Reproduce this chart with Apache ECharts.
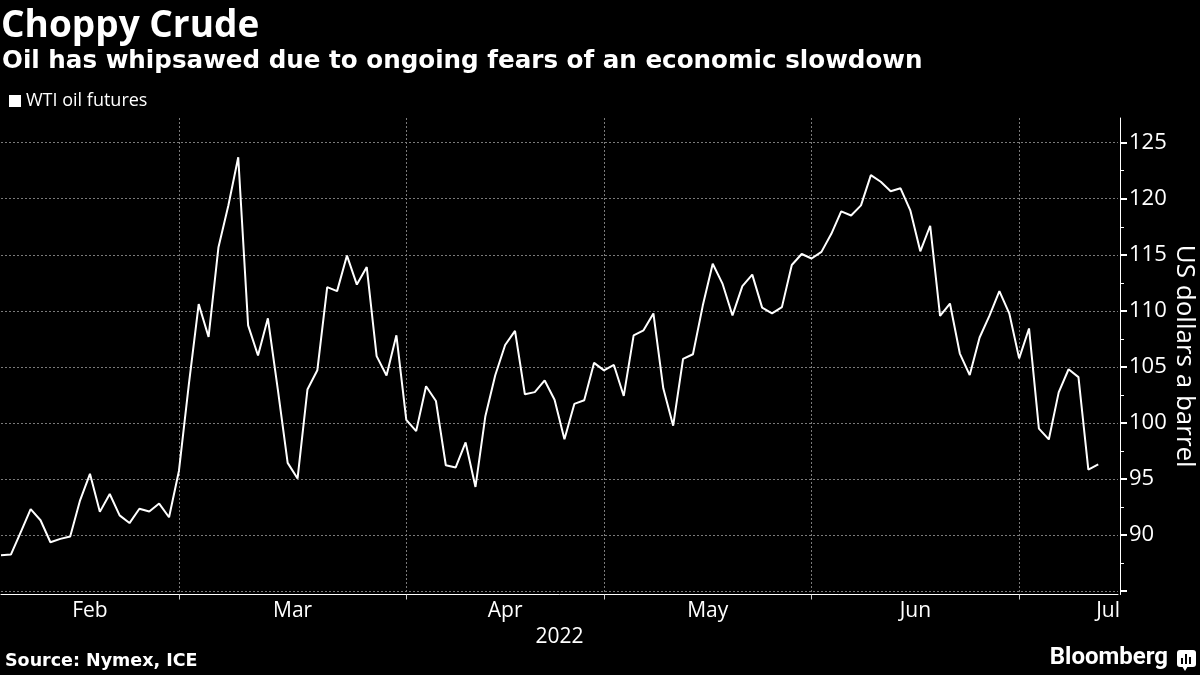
<!DOCTYPE html>
<html><head><meta charset="utf-8">
<script src="https://cdn.jsdelivr.net/npm/echarts@6/dist/echarts.min.js"></script>
<style>html,body{margin:0;padding:0;background:#000}#c{width:1200px;height:675px}</style>
</head><body><div id="c"></div>
<script>
// Trading days (WTI front-month settlements, Feb 1 – Jul 13, 2022)
const dates = [
 '2022-02-01','2022-02-02','2022-02-03','2022-02-04','2022-02-07','2022-02-08','2022-02-09','2022-02-10','2022-02-11','2022-02-14',
 '2022-02-15','2022-02-16','2022-02-17','2022-02-18','2022-02-22','2022-02-23','2022-02-24','2022-02-25','2022-02-28',
 '2022-03-01','2022-03-02','2022-03-03','2022-03-04','2022-03-07','2022-03-08','2022-03-09','2022-03-10','2022-03-11','2022-03-14',
 '2022-03-15','2022-03-16','2022-03-17','2022-03-18','2022-03-21','2022-03-22','2022-03-23','2022-03-24','2022-03-25','2022-03-28',
 '2022-03-29','2022-03-30','2022-03-31',
 '2022-04-01','2022-04-04','2022-04-05','2022-04-06','2022-04-07','2022-04-08','2022-04-11','2022-04-12','2022-04-13','2022-04-14',
 '2022-04-18','2022-04-19','2022-04-20','2022-04-21','2022-04-22','2022-04-25','2022-04-26','2022-04-27','2022-04-28','2022-04-29',
 '2022-05-02','2022-05-03','2022-05-04','2022-05-05','2022-05-06','2022-05-09','2022-05-10','2022-05-11','2022-05-12','2022-05-13',
 '2022-05-16','2022-05-17','2022-05-18','2022-05-19','2022-05-20','2022-05-23','2022-05-24','2022-05-25','2022-05-26','2022-05-27',
 '2022-05-31',
 '2022-06-01','2022-06-02','2022-06-03','2022-06-06','2022-06-07','2022-06-08','2022-06-09','2022-06-10','2022-06-13','2022-06-14',
 '2022-06-15','2022-06-16','2022-06-17','2022-06-21','2022-06-22','2022-06-23','2022-06-24','2022-06-27','2022-06-28','2022-06-29',
 '2022-06-30',
 '2022-07-01','2022-07-05','2022-07-06','2022-07-07','2022-07-08','2022-07-11','2022-07-12','2022-07-13'
];
const wti = [
 88.20, 88.26, 90.27, 92.31, 91.32, 89.36, 89.66, 89.88, 93.10, 95.46,
 92.07, 93.66, 91.76, 91.07, 92.35, 92.10, 92.81, 91.59, 95.72,
 103.41, 110.60, 107.67, 115.68, 119.40, 123.70, 108.70, 106.02, 109.33, 103.01,
 96.44, 95.04, 102.98, 104.70, 112.12, 111.76, 114.93, 112.34, 113.90, 105.96,
 104.24, 107.82, 100.28,
 99.27, 103.28, 101.96, 96.23, 96.03, 98.26, 94.29, 100.60, 104.25, 106.95,
 108.21, 102.56, 102.75, 103.79, 102.07, 98.54, 101.70, 102.02, 105.36, 104.69,
 105.17, 102.41, 107.81, 108.26, 109.77, 103.09, 99.76, 105.71, 106.13, 110.49,
 114.20, 112.40, 109.59, 112.21, 113.23, 110.29, 109.77, 110.33, 114.09, 115.07,
 114.67,
 115.26, 116.87, 118.87, 118.50, 119.41, 122.11, 121.51, 120.67, 120.93, 118.93,
 115.31, 117.59, 109.56, 110.65, 106.19, 104.27, 107.62, 109.57, 111.76, 109.78,
 105.76,
 108.43, 99.50, 98.53, 102.73, 104.79, 104.09, 95.84, 96.30
];
// axis runs on past the last settlement by two more trading days
const padDates = ['2022-07-14','2022-07-15'];
const monthLabels = ['Feb','Mar','Apr','May','Jun','Jul'];
const yMajorTicks = [85, 90, 95, 100, 105, 110, 115, 120, 125];
const yLabelValues = [90, 95, 100, 105, 110, 115, 120, 125];
const yMinorTicks = [87.5, 92.5, 97.5, 102.5, 107.5, 112.5, 117.5, 122.5];

const categories = dates.concat(padDates);
const GRID_L = 1, GRID_R = 1118;
const slot = (GRID_R - GRID_L) / (categories.length - 1);

// last trading day of each month -> tick / grid line
const bounds = [];
for (let i = 0; i < categories.length - 1; i++) {
  if (categories[i].slice(5, 7) !== categories[i + 1].slice(5, 7)) bounds.push(i);
}
const boundSet = new Set(bounds);
// month labels centred between boundaries
const labelAt = {};
for (let m = 0; m < monthLabels.length; m++) {
  let idx, shift = 0;
  if (m === monthLabels.length - 1) {
    idx = categories.length - 2;
  } else {
    const start = m === 0 ? 0 : bounds[m - 1];
    const end = bounds[m];
    const mid = (start + end) / 2;
    idx = Math.floor(mid);
    shift = (mid - idx) * slot;
  }
  labelAt[idx] = { text: monthLabels[m], shift: shift };
}

const FONT = "'Open Sans', 'Noto Sans', sans-serif";
const GRID_COLOR = '#7a7a7a';

const chart = echarts.init(document.getElementById('c'), null, { renderer: 'canvas' });
chart.setOption({
  backgroundColor: '#000',
  animation: false,
  title: [
    { text: 'Choppy Crude', left: 1, top: 8, padding: 0,
      textStyle: { color: '#fff', fontSize: 37, fontWeight: 'bold', fontFamily: "'Open Sans', sans-serif" } },
    { text: 'Oil has whipsawed due to ongoing fears of an economic slowdown', left: 2, top: 49, padding: 0,
      textStyle: { color: '#fff', fontSize: 24.6, fontWeight: 'bold', fontFamily: "'DejaVu Sans', sans-serif" } },
    { text: 'Source: Nymex, ICE', left: 5, top: 652, padding: 0,
      textStyle: { color: '#fff', fontSize: 17.5, fontWeight: 'bold', fontFamily: "'DejaVu Sans', sans-serif" } },
    { text: 'Bloomberg', right: 32, top: 646, padding: 0,
      textStyle: { color: '#fff', fontSize: 24, fontWeight: 'bold', fontFamily: "Roboto, 'Open Sans', sans-serif" } }
  ],
  legend: {
    data: ['WTI oil futures'], left: 9, top: 92, padding: 0,
    icon: 'rect', itemWidth: 12, itemHeight: 12, selectedMode: false,
    textStyle: { color: '#fff', fontSize: 18, fontFamily: FONT }
  },
  grid: { left: GRID_L, right: 1200 - GRID_R, top: 118, bottom: 80.5, containLabel: false, outerBoundsMode: 'none' },
  xAxis: {
    type: 'category', data: categories, boundaryGap: false,
    axisLine: { show: true, onZero: false, lineStyle: { color: '#fff', width: 1 } },
    axisTick: { show: true, interval: (i) => boundSet.has(i), length: 5, lineStyle: { color: '#ccc', width: 1 } },
    splitLine: { show: true, interval: (i) => boundSet.has(i), lineStyle: { color: GRID_COLOR, width: 1, type: [2, 2] } },
    axisLabel: {
      interval: (i) => !!labelAt[i], margin: 6, color: '#fff', fontSize: 21, fontFamily: FONT,
      formatter: (v, i) => {
        const info = labelAt[i];
        if (!info) return '';
        return info.shift > 0.5 ? '{s|' + info.text + '}' : info.text;
      },
      rich: { s: { padding: [0, 0, 0, 2 * slot * 0.5], color: '#fff', fontSize: 21, fontFamily: FONT } }
    },
    name: '2022', nameLocation: 'middle', nameGap: 30,
    nameTextStyle: { color: '#fff', fontSize: 21, fontFamily: FONT }
  },
  yAxis: [
    {
      type: 'value', position: 'right', offset: 2, min: 84.7, max: 127.2, splitNumber: 8,
      axisLine: { show: true, lineStyle: { color: '#fff', width: 1 } },
      axisTick: { show: true, customValues: yMajorTicks, length: 7, lineStyle: { color: '#fff', width: 2 } },
      axisLabel: { customValues: yLabelValues, margin: 9,
                   color: '#fff', fontSize: 22, fontFamily: FONT },
      splitLine: { show: true, lineStyle: { color: GRID_COLOR, width: 1, type: [2, 2] } },
      name: 'US dollars a barrel', nameLocation: 'middle', nameRotate: -90, nameGap: 51, nameMoveOverlap: false,
      nameTextStyle: { color: '#fff', fontSize: 26, fontFamily: FONT }
    },
    {
      type: 'value', position: 'right', offset: 2, min: 84.7, max: 127.2, splitNumber: 8,
      axisLine: { show: false },
      axisTick: { show: true, customValues: yMinorTicks, length: 4, lineStyle: { color: '#fff', width: 1 } },
      axisLabel: { show: false },
      splitLine: { show: false }
    }
  ],
  series: [{
    name: 'WTI oil futures', type: 'line', data: wti, yAxisIndex: 0,
    symbol: 'none', smooth: false,
    lineStyle: { color: '#fff', width: 2 }, itemStyle: { color: '#fff' }
  }],
  graphic: [{
    type: 'group', right: 4, top: 650,
    children: [
      { type: 'rect', shape: { x: 0, y: 0, width: 19, height: 17, r: 3 }, style: { fill: '#fff' } },
      { type: 'polygon', shape: { points: [[5, 16], [11, 16], [8, 21]] }, style: { fill: '#fff' } },
      { type: 'rect', shape: { x: 4, y: 8, width: 2, height: 6 }, style: { fill: '#000' } },
      { type: 'rect', shape: { x: 8, y: 4, width: 2, height: 10 }, style: { fill: '#000' } },
      { type: 'rect', shape: { x: 12, y: 7, width: 2, height: 7 }, style: { fill: '#000' } }
    ]
  }]
});
</script>
</body></html>
